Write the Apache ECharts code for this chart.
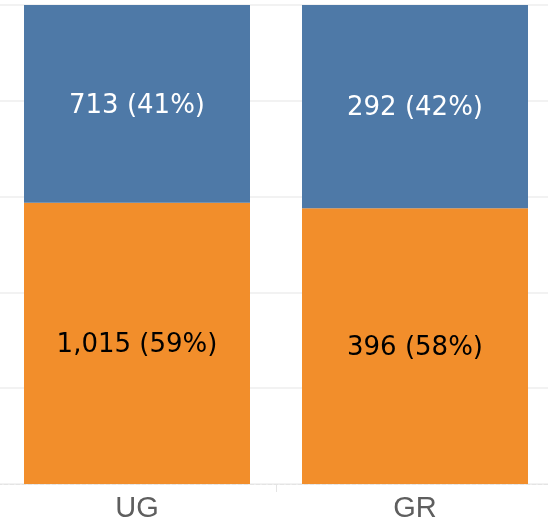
<!DOCTYPE html>
<html>
<head>
<meta charset="utf-8">
<script src="https://cdn.jsdelivr.net/npm/echarts@6/dist/echarts.min.js"></script>
<style>html,body{margin:0;padding:0;background:#fff}#c{width:548px;height:525px}</style>
</head>
<body>
<div id="c"></div>
<script>
const categories = ['UG', 'GR'];
const orangeCounts = [1015, 396];
const blueCounts = [713, 292];
const yTicks = [0, 20, 40, 60, 80, 100];

const totals = categories.map((_, i) => orangeCounts[i] + blueCounts[i]);
const pct = (v, i) => v / totals[i] * 100;
const fmt = n => n.toLocaleString('en-US');

const chart = echarts.init(document.getElementById('c'), null, {renderer: 'canvas'});
function series(name, counts, color, textColor) {
  return {
    name, type: 'bar', stack: 'all', barWidth: 226,
    itemStyle: {color},
    data: counts.map((v, i) => ({value: pct(v, i), count: v})),
    label: {
      show: true, position: 'inside', offset: [0, 2],
      fontFamily: 'DejaVu Sans', fontSize: 26, color: textColor,
      formatter: p => fmt(p.data.count) + ' (' + Math.round(p.value) + '%)'
    },
    emphasis: {disabled: true}
  };
}
chart.setOption({
  animation: false,
  grid: {left: -2, right: -6, top: 5, bottom: 41, containLabel: false, outerBoundsMode: 'none'},
  xAxis: {
    type: 'category', data: categories,
    axisLine: {show: true, lineStyle: {color: '#e4e4e4', type: 'dashed', width: 1}},
    axisTick: {show: true, alignWithLabel: false, length: 8, lineStyle: {color: '#e4e4e4'}},
    axisLabel: {fontFamily: 'Liberation Sans', fontSize: 29, color: '#5e5e5e', margin: 10}
  },
  yAxis: {
    type: 'value', min: yTicks[0], max: yTicks[yTicks.length - 1], interval: 20,
    axisLabel: {show: false}, axisLine: {show: false}, axisTick: {show: false},
    splitLine: {lineStyle: {color: '#eeeeee', width: 1.5}}
  },
  series: [
    series('orange', orangeCounts, '#f28e2b', '#000000'),
    series('blue', blueCounts, '#4e79a7', '#ffffff')
  ]
});
</script>
</body>
</html>
